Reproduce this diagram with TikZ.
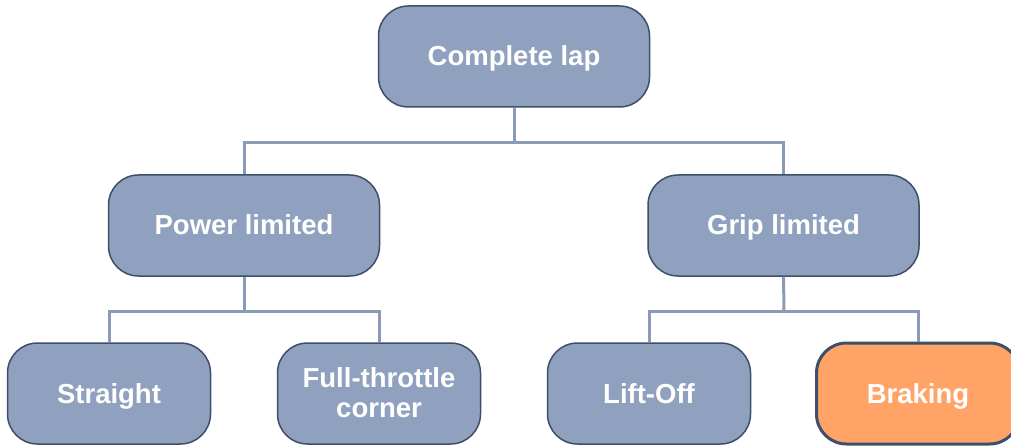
\documentclass[tikz,border=0pt]{standalone}
\usepackage{fontspec}
\setmainfont{Liberation Sans}
\definecolor{boxfill}{RGB}{143,161,190}
\definecolor{boxline}{RGB}{62,78,107}
\definecolor{linkcol}{RGB}{138,155,184}
\definecolor{orangefill}{RGB}{255,164,102}
\tikzset{
  box/.style={draw=boxline, line width=1.5pt, fill=boxfill, rounded corners=30pt,
    minimum height=101pt, inner sep=0pt, align=center, text=white,
    text height=19pt, text depth=0pt,
    font=\fontsize{27.5}{30}\selectfont\bfseries},
  widebox/.style={box, minimum width=271pt},
  leafbox/.style={box, minimum width=203pt},
  twoline/.style={text height=48pt, text depth=0pt},
  hot/.style={fill=orangefill, line width=3pt},
  link/.style={draw=linkcol, line width=3pt}
}
\begin{document}
\begin{tikzpicture}[x=1pt,y=-1pt]
\useasboundingbox (0,0) rectangle (1011,446);
\node[widebox] (lap) at (514,56.5) {Complete lap};
\node[widebox] (power) at (244,225.5) {Power limited};
\node[widebox] (grip) at (783.5,225.5) {Grip limited};
\node[leafbox] (straight) at (109,393.5) {Straight};
\node[leafbox,twoline] (full) at (379,393.5) {Full-throttle\\corner};
\node[leafbox] (lift) at (649,393.5) {Lift-Off};
\node[leafbox,hot] (brake) at (918,393.5) {Braking};
\coordinate (j1) at (514,143);
\coordinate (j2) at (244,311);
\coordinate (j3) at (784,311);
\draw[link] (lap.south) -- (j1);
\draw[link] (power.north) |- (j1) -| (grip.north);
\draw[link] (power.south) -- (j2);
\draw[link] (straight.north) |- (j2) -| (full.north);
\draw[link] (grip.south) -- (j3);
\draw[link] (lift.north) |- (j3) -| (brake.north);
\end{tikzpicture}
\end{document}
